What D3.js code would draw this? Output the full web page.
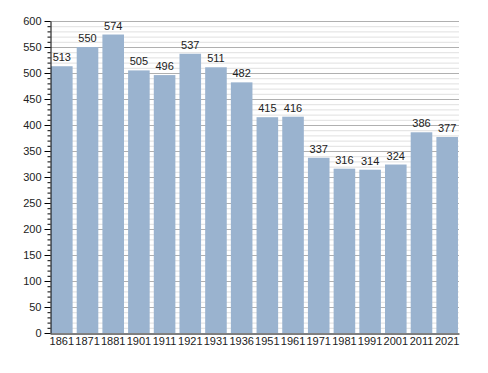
<!DOCTYPE html>
<html lang="en">
<head>
    <meta charset="UTF-8">
    <title>Population</title>
    <script src="https://d3js.org/d3.v7.min.js"></script>
    <style>
        body { margin: 0; background: #fff; }
        text { font-family: "Liberation Sans", Arial, sans-serif; }
    </style>
</head>
<body>
    <div id="container"></div>
    <script>
        // Data
        const years = ["1861", "1871", "1881", "1901", "1911", "1921", "1931", "1936",
                       "1951", "1961", "1971", "1981", "1991", "2001", "2011", "2021"];
        const population = [513, 550, 574, 505, 496, 537, 511, 482,
                            415, 416, 337, 316, 314, 324, 386, 377];
        const yTicks = [0, 50, 100, 150, 200, 250, 300, 350, 400, 450, 500, 550, 600];

        // Dimensions
        const width = 488;
        const height = 373;
        const margin = { top: 21, right: 29, bottom: 40, left: 50 };
        const barColor = '#9ab3cf';

        const svg = d3.select("#container").append("svg")
            .attr("width", width)
            .attr("height", height);

        const x = d3.scaleBand()
            .domain(years)
            .range([margin.left, width - margin.right])
            .paddingInner(0.16)
            .paddingOuter(0.04);

        const y = d3.scaleLinear()
            .domain([0, 600])
            .range([height - margin.bottom, margin.top]);

        // Grid lines: minor every 10, major every 50
        const minor = d3.range(10, 601, 10).filter(v => v % 50 !== 0);
        svg.append("g").selectAll("line").data(minor).join("line")
            .attr("x1", margin.left).attr("x2", width - margin.right)
            .attr("y1", d => y(d) + 0.5).attr("y2", d => y(d) + 0.5)
            .attr("stroke", "#e0e0e0");
        svg.append("g").selectAll("line").data(yTicks.slice(1)).join("line")
            .attr("x1", margin.left).attr("x2", width - margin.right)
            .attr("y1", d => y(d) + 0.5).attr("y2", d => y(d) + 0.5)
            .attr("stroke", "#b0b0b0");

        // Bars
        svg.append("g").selectAll("rect").data(population).join("rect")
            .attr("x", (d, i) => x(years[i]))
            .attr("y", d => y(d))
            .attr("width", x.bandwidth())
            .attr("height", d => y(0) - y(d))
            .attr("fill", barColor);

        // Value labels
        svg.append("g").selectAll("text").data(population).join("text")
            .attr("x", (d, i) => x(years[i]) + x.bandwidth() / 2)
            .attr("y", d => y(d) - 5)
            .attr("text-anchor", "middle")
            .attr("font-size", 11)
            .attr("fill", "#222")
            .text(d => d);

        // Y axis
        const yAxis = d3.axisLeft(y).tickValues(yTicks).tickSize(6).tickSizeOuter(0).tickPadding(3);
        const gy = svg.append("g")
            .attr("transform", `translate(${margin.left + 0.5},0)`)
            .call(yAxis);
        gy.selectAll("text").attr("font-size", 11).attr("fill", "#222");
        gy.select(".domain").attr("stroke", "#000");
        gy.selectAll(".tick line").attr("stroke", "#000");
        // minor ticks
        gy.append("g").selectAll("line").data(minor).join("line")
            .attr("x1", -3).attr("x2", 0)
            .attr("y1", d => y(d) + 0.5).attr("y2", d => y(d) + 0.5)
            .attr("stroke", "#000");

        // X axis
        const xAxis = d3.axisBottom(x).tickSize(0).tickSizeOuter(0).tickPadding(4);
        const gx = svg.append("g")
            .attr("transform", `translate(0,${y(0) + 0.5})`)
            .call(xAxis);
        gx.selectAll("text").attr("font-size", 11).attr("fill", "#222");
        gx.select(".domain").attr("stroke", "#000");
    </script>
</body>
</html>
